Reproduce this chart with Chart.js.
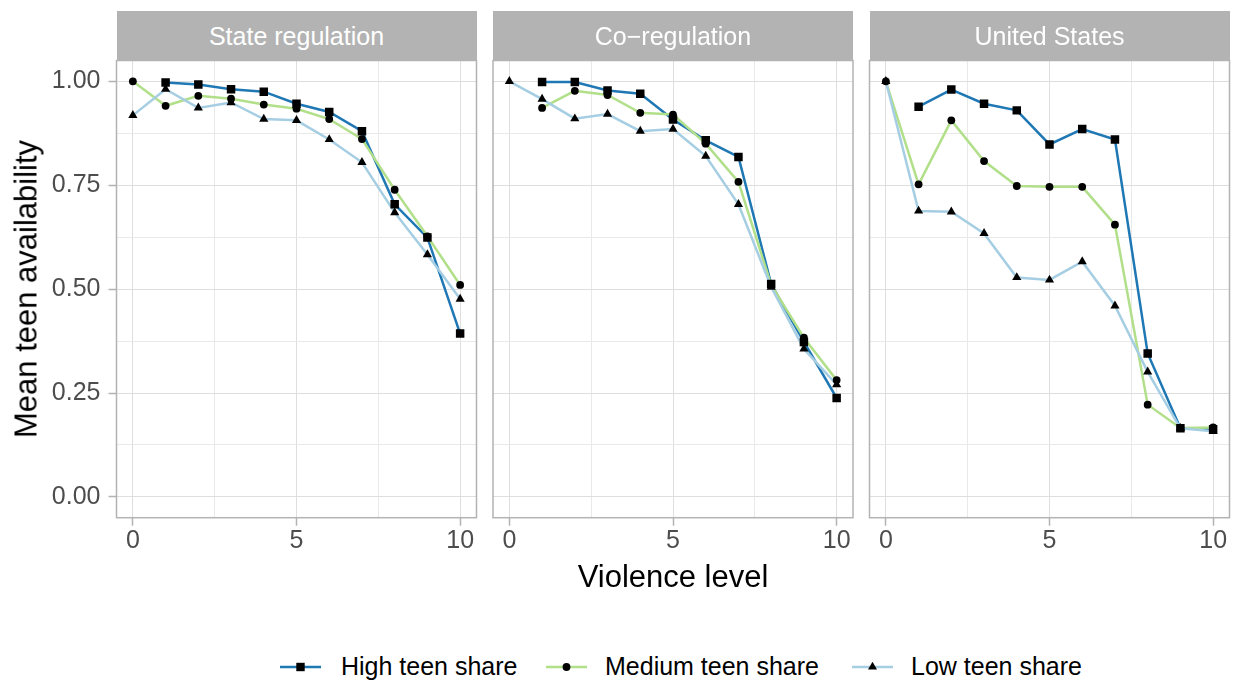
<!DOCTYPE html>
<html>
<head>
<meta charset="utf-8">
<script src="https://cdn.jsdelivr.net/npm/chart.js@4.4.1/dist/chart.umd.min.js"></script>
<style>
  html, body { margin: 0; padding: 0; background: #ffffff; }
  #wrap { position: relative; width: 1238px; height: 683px; overflow: hidden;
          font-family: "Liberation Sans", Arial, sans-serif; }
  canvas { position: absolute; }
  .strip { position: absolute; top: 11px; height: 50px; background: #b3b3b3; color: #ffffff;
           font-size: 25px; display: flex; align-items: center; justify-content: center; }
  .title { position: absolute; color: #000000; font-size: 31px; line-height: 31px; white-space: nowrap; }
  .legtext { position: absolute; top: 654px; font-size: 25px; line-height: 25px; color: #000000; white-space: nowrap; }
  .legkey { position: absolute; top: 657px; width: 41px; height: 20px; }
</style>
</head>
<body>
<div id="wrap">
  <canvas id="p0"></canvas>
  <canvas id="p1"></canvas>
  <canvas id="p2"></canvas>
  <div class="title" id="ytitle">Mean teen availability</div>
  <div class="title" id="xtitle">Violence level</div>
</div>
<script>
// Violence level on the x axis
const violence = [0, 1, 2, 3, 4, 5, 6, 7, 8, 9, 10];

// Facet names
const facetNames = ['State regulation', 'Co\u2212regulation', 'United States'];

// Series names
const seriesNames = ['High teen share', 'Medium teen share', 'Low teen share'];

// Mean teen availability by violence level (null = no observation)
const stateHigh   = [null, 0.997, 0.992, 0.981, 0.975, 0.946, 0.926, 0.880, 0.704, 0.624, 0.393];
const stateMedium = [1.000, 0.941, 0.965, 0.958, 0.944, 0.934, 0.909, 0.861, 0.739, 0.627, 0.510];
const stateLow    = [0.918, 0.981, 0.936, 0.949, 0.909, 0.906, 0.860, 0.805, 0.684, 0.583, 0.476];

const coHigh   = [null, 0.998, 0.998, 0.978, 0.970, 0.908, 0.858, 0.818, 0.512, 0.373, 0.238];
const coMedium = [null, 0.936, 0.977, 0.967, 0.924, 0.920, 0.850, 0.758, 0.510, 0.383, 0.281];
const coLow    = [1.000, 0.957, 0.910, 0.921, 0.880, 0.885, 0.820, 0.704, 0.505, 0.356, 0.270];

const usHigh   = [null, 0.939, 0.980, 0.946, 0.930, 0.848, 0.885, 0.860, 0.345, 0.165, 0.163];
const usMedium = [1.000, 0.752, 0.906, 0.808, 0.748, 0.746, 0.746, 0.655, 0.222, 0.166, 0.167];
const usLow    = [1.000, 0.688, 0.686, 0.634, 0.528, 0.522, 0.566, 0.460, 0.301, 0.165, 0.158];

// Axis ticks: labelled (major) and unlabelled (minor) grid positions
const xTicks = [0, 5, 10];
const xMinor = [2.5, 7.5];
const yTicks = [0, 0.25, 0.5, 0.75, 1];
const yMinor = [0.125, 0.375, 0.625, 0.875];

// Styling
const seriesColors = ['#1f78b4', '#b2df8a', '#a6cee3'];
const pointStyles = ['rect', 'circle', 'triangle'];
const pointRadii = [6.0, 3.9, 5.3];
const FONT = '"Liberation Sans", Arial, sans-serif';

// Plot-area boxes for the three facets (page pixels)
const PLOT_TOP = 60.5, PLOT_BOTTOM = 517.7;
const boxes = [
  { l: 116.5, r: 476.5 },
  { l: 493.0, r: 853.0 },
  { l: 869.5, r: 1229.5 }
];

const panelBorder = {
  id: 'panelBorder',
  afterDatasetsDraw(chart) {
    const a = chart.chartArea, c = chart.ctx;
    c.save();
    c.strokeStyle = '#b3b3b3';
    c.lineWidth = 1.5;
    c.strokeRect(a.left, a.top, a.right - a.left, a.bottom - a.top);
    c.restore();
  }
};

function isMajor(list, v) {
  return list.some(t => Math.abs(t - v) < 1e-9);
}

function noScalePadding(s) {
  s.paddingTop = 0; s.paddingBottom = 0; s.paddingLeft = 0; s.paddingRight = 0;
}

function makePanel(idx, series) {
  const box = boxes[idx];
  const showY = idx === 0;
  const canvas = document.getElementById('p' + idx);
  const left = showY ? 0 : Math.floor(box.l) - 4;
  const right = Math.ceil(box.r) + 4;
  const top = 20, bottom = 600;
  canvas.style.left = left + 'px';
  canvas.style.top = top + 'px';
  canvas.width = right - left;
  canvas.height = bottom - top;
  canvas.style.width = (right - left) + 'px';
  canvas.style.height = (bottom - top) + 'px';

  const toPts = vals => violence.map((v, i) => ({ x: v, y: vals[i] }));
  const datasets = [];
  // markers sit above every line; Low markers drawn last
  series.forEach((vals, s) => {
    datasets.push({
      label: seriesNames[s] + ' points',
      data: toPts(vals),
      showLine: false,
      pointStyle: pointStyles[s],
      pointRadius: pointRadii[s],
      pointBackgroundColor: '#000000',
      pointBorderColor: '#000000',
      pointBorderWidth: 0,
      order: 2 - s
    });
  });
  series.forEach((vals, s) => {
    datasets.push({
      label: seriesNames[s],
      data: toPts(vals),
      borderColor: seriesColors[s],
      borderWidth: 2.5,
      pointRadius: 0,
      spanGaps: false,
      tension: 0,
      fill: false,
      order: 5 - s
    });
  });

  const gridColor = list => ctx => (ctx.tick && isMajor(list, ctx.tick.value)) ? '#dedede' : '#e9e9e9';
  const tickColor = list => ctx => (ctx.tick && isMajor(list, ctx.tick.value)) ? '#b3b3b3' : 'rgba(0,0,0,0)';

  new Chart(canvas, {
    type: 'line',
    data: { datasets },
    plugins: [panelBorder],
    options: {
      responsive: false,
      animation: false,
      events: [],
      devicePixelRatio: 1,
      layout: {
        autoPadding: false,
        padding: { left: 0, right: right - box.r, top: PLOT_TOP - top, bottom: 0 }
      },
      plugins: { legend: { display: false }, tooltip: { enabled: false } },
      scales: {
        x: {
          type: 'linear',
          min: -0.5,
          max: 10.5,
          afterBuildTicks: s => { s.ticks = xTicks.concat(xMinor).sort((a, b) => a - b).map(v => ({ value: v })); },
          afterFit: s => { s.height = bottom - PLOT_BOTTOM; noScalePadding(s); },
          border: { display: false },
          grid: {
            color: gridColor(xTicks),
            lineWidth: 1,
            drawTicks: true,
            tickLength: 8,
            tickColor: tickColor(xTicks),
            tickWidth: 1.5
          },
          ticks: {
            autoSkip: false,
            maxRotation: 0,
            padding: 0,
            color: '#4d4d4d',
            font: { family: FONT, size: 25 },
            callback: v => isMajor(xTicks, v) ? String(v) : ''
          }
        },
        y: {
          type: 'linear',
          min: -0.05,
          max: 1.05,
          afterBuildTicks: s => { s.ticks = yTicks.concat(yMinor).sort((a, b) => a - b).map(v => ({ value: v })); },
          afterFit: s => { s.width = box.l - left; noScalePadding(s); },
          border: { display: false },
          grid: {
            color: gridColor(yTicks),
            lineWidth: 1,
            drawTicks: showY,
            tickLength: 8,
            tickColor: tickColor(yTicks),
            tickWidth: 1.5
          },
          ticks: {
            display: showY,
            autoSkip: false,
            padding: 8,
            color: '#4d4d4d',
            font: { family: FONT, size: 25 },
            callback: v => isMajor(yTicks, v) ? v.toFixed(2) : ''
          }
        }
      }
    }
  });

  // facet strip
  const strip = document.createElement('div');
  strip.className = 'strip';
  strip.style.left = box.l + 'px';
  strip.style.width = (box.r - box.l) + 'px';
  strip.textContent = facetNames[idx];
  document.getElementById('wrap').appendChild(strip);
}

makePanel(0, [stateHigh, stateMedium, stateLow]);
makePanel(1, [coHigh, coMedium, coLow]);
makePanel(2, [usHigh, usMedium, usLow]);

// Axis titles
const xt = document.getElementById('xtitle');
xt.style.left = ((boxes[0].l + boxes[2].r) / 2) + 'px';
xt.style.top = '561px';
xt.style.transform = 'translateX(-50%)';
const yt = document.getElementById('ytitle');
yt.style.left = '26px';
yt.style.top = ((PLOT_TOP + PLOT_BOTTOM) / 2) + 'px';
yt.style.transform = 'translate(-50%, -50%) rotate(-90deg)';

// Legend
const legendKeyLeft = [280, 546, 852];
const legendTextLeft = [341, 605, 911];
const SVGNS = 'http://www.w3.org/2000/svg';
seriesNames.forEach((name, s) => {
  const svg = document.createElementNS(SVGNS, 'svg');
  svg.setAttribute('class', 'legkey');
  svg.setAttribute('width', '41');
  svg.setAttribute('height', '20');
  svg.style.left = legendKeyLeft[s] + 'px';
  const line = document.createElementNS(SVGNS, 'line');
  line.setAttribute('x1', '0'); line.setAttribute('x2', '41');
  line.setAttribute('y1', '10'); line.setAttribute('y2', '10');
  line.setAttribute('stroke', seriesColors[s]);
  line.setAttribute('stroke-width', '2.5');
  svg.appendChild(line);
  let mark;
  if (pointStyles[s] === 'rect') {
    mark = document.createElementNS(SVGNS, 'rect');
    mark.setAttribute('x', '16.3'); mark.setAttribute('y', '5.8');
    mark.setAttribute('width', '8.4'); mark.setAttribute('height', '8.4');
  } else if (pointStyles[s] === 'circle') {
    mark = document.createElementNS(SVGNS, 'circle');
    mark.setAttribute('cx', '20.5'); mark.setAttribute('cy', '10'); mark.setAttribute('r', '3.9');
  } else {
    mark = document.createElementNS(SVGNS, 'polygon');
    mark.setAttribute('points', '20.5,4.8 25,12.6 16,12.6');
  }
  mark.setAttribute('fill', '#000000');
  svg.appendChild(mark);
  document.getElementById('wrap').appendChild(svg);

  const t = document.createElement('div');
  t.className = 'legtext';
  t.style.left = legendTextLeft[s] + 'px';
  t.textContent = name;
  document.getElementById('wrap').appendChild(t);
});
</script>
</body>
</html>
